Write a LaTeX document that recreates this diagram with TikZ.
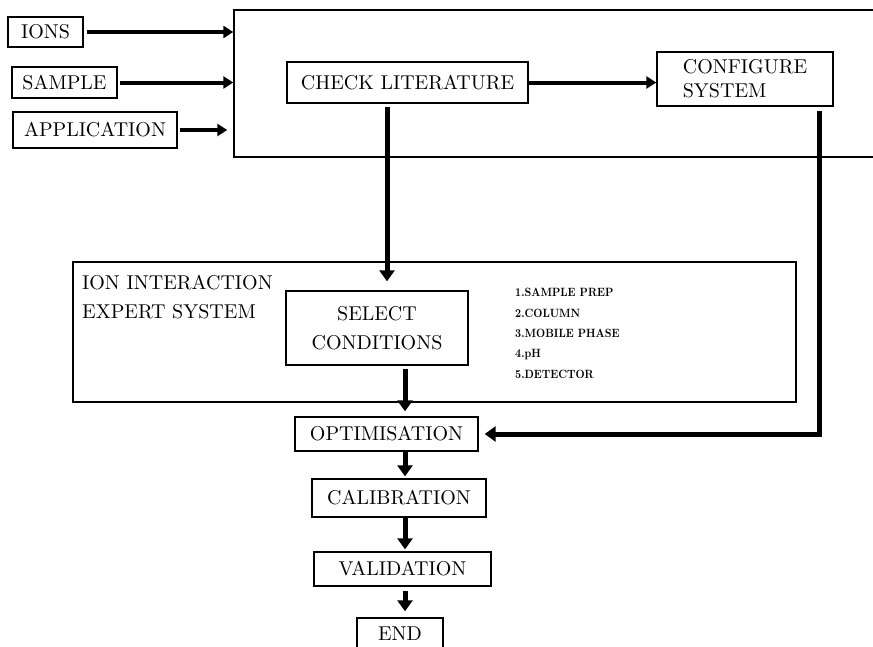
\documentclass[tikz,border=0pt]{standalone}
\usepackage{fontspec}
\setmainfont{lmroman10-regular}[Extension=.otf, BoldFont=lmroman10-bold]
\newfontfamily\listfont{lmroman10-bold}[Extension=.otf, FakeStretch=0.88]
\usetikzlibrary{arrows.meta}
\begin{document}
\begin{tikzpicture}[x=1pt,y=-1pt,
  box/.style={draw, line width=1.4pt, inner sep=0pt, font=\fontsize{20}{24}\selectfont},
  frame/.style={draw, line width=1.4pt, inner sep=0pt},
  flow/.style={line width=5pt, -{Triangle[length=11pt,width=15pt]}},
  feed/.style={line width=4pt, -{Triangle[length=10pt,width=12pt]}},
  label/.style={inner sep=0pt, anchor=base west, align=left},
  ]
\clip (0,0) rectangle (873,646);
\fill[white] (0,0) rectangle (873,646);

% outer frames
\node[frame, minimum width=646, minimum height=147] (big) at (557,83.5) {};
\node[frame, minimum width=723, minimum height=140] (expert) at (434.5,332) {};

% inputs
\node[box, minimum width=75, minimum height=30] (ions) at (45.5,32) {IONS};
\node[box, minimum width=105, minimum height=31] (sample) at (64.5,82.5) {SAMPLE};
\node[box, minimum width=164, minimum height=36] (application) at (95,130) {APPLICATION};

% upper stage
\node[box, minimum width=241, minimum height=41] (check) at (407.5,82.5) {CHECK LITERATURE};
\node[box, minimum width=176, minimum height=54, align=left,
      font=\fontsize{20}{24}\selectfont] (configure) at (745,79) {CONFIGURE\\SYSTEM};

% expert system (base anchor sits on the last line)
\node[label, font=\fontsize{20}{29}\selectfont] (experttitle) at (82,318)
  {ION INTERACTION\\EXPERT SYSTEM};
\node[box, minimum width=182, minimum height=74, align=center,
      font=\fontsize{20}{29}\selectfont] (select) at (377,328) {SELECT\\CONDITIONS};
\node[label, font=\listfont\fontsize{12}{20.3}\selectfont] (list) at (515,378)
  {1.SAMPLE PREP\\2.COLUMN\\3.MOBILE PHASE\\4.pH\\5.DETECTOR};

% lower chain
\node[box, minimum width=183, minimum height=34] (optim) at (386.5,434) {OPTIMISATION};
\node[box, minimum width=174, minimum height=38] (calib) at (399,498) {CALIBRATION};
\node[box, minimum width=177, minimum height=34] (valid) at (402.5,569) {VALIDATION};
\node[box, minimum width=86, minimum height=32] (end) at (400,634) {END};

% helper coordinates for connector routes
\coordinate (drop) at (387,0);
\coordinate (spine) at (405,0);
\coordinate (turn) at (819,434);

% connectors
\draw[feed, shorten <=3pt] (ions.east) -- (ions.east -| big.west);
\draw[feed, shorten <=2pt] (sample.east) -- (sample.east -| big.west);
\draw[feed, shorten <=2pt, shorten >=6pt] (application.east) -- (application.east -| big.west);
\draw[feed] (check.east) -- (check.east -| configure.west);
\draw[flow, shorten <=3pt, shorten >=9pt] (check.south -| drop) -- (select.north -| drop);
\draw[flow, shorten <=3pt, shorten >=5pt] (select.south -| spine) -- (optim.north -| spine);
\draw[flow, shorten <=4pt, shorten >=6pt] (configure.south -| turn) -- (turn) -- (optim.east);
\draw[flow, shorten >=2pt] (optim.south -| spine) -- (calib.north -| spine);
\draw[flow, shorten >=2pt] (calib.south -| spine) -- (valid.north -| spine);
\draw[flow, shorten <=4pt, shorten >=6pt] (valid.south -| spine) -- (end.north -| spine);
\end{tikzpicture}
\end{document}
